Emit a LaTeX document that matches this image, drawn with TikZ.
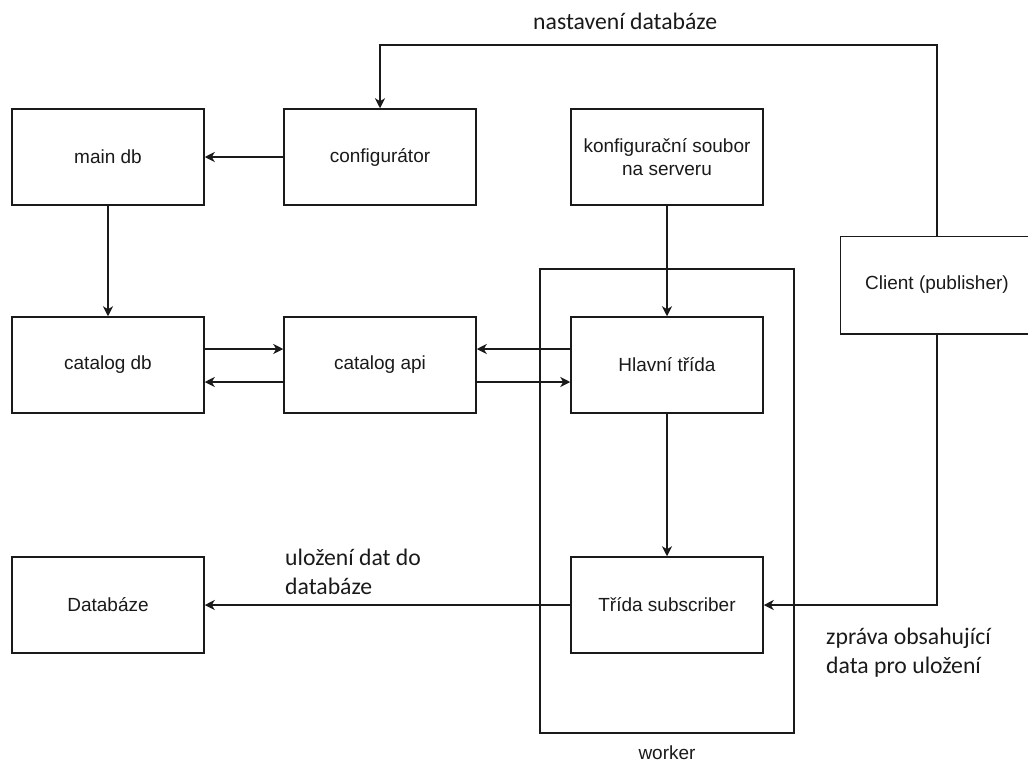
\documentclass[tikz,border=0pt]{standalone}
\usepackage{fontspec}
\setmainfont{Liberation Sans}
\newfontfamily\lblfont{Carlito}
\usetikzlibrary{arrows.meta,calc}
\definecolor{ink}{HTML}{1A1A1A}
\tikzset{
  box/.style={draw=ink, line width=1.5pt, minimum width=192pt, minimum height=96pt, inner sep=0pt, align=center, font=\fontsize{19}{23}\selectfont, text=ink},
  conn/.style={draw=ink, line width=1.5pt, -{Stealth[length=10pt,width=10pt,inset=3pt]}},
  lbl/.style={font=\lblfont\fontsize{23.7}{29}\selectfont, text=ink, align=left, inner sep=0pt, anchor=north west},
}
\begin{document}
\begin{tikzpicture}[x=1pt,y=-1pt]
\useasboundingbox (0,0) rectangle (1028,763);
% worker container
\draw[ink, line width=1.5pt] (540,269) rectangle (794,733);
\node[font=\fontsize{19}{23}\selectfont, text=ink] (wlbl) at (667,753) {worker};
% boxes
\node[box] (maindb) at (108,157) {main db};
\node[box] (cfg) at (380,157) {configurátor};
\node[box] (konf) at (667,157) {konfigurační soubor\\na serveru};
\node[box] (catdb) at (108,365) {catalog db};
\node[box] (catapi) at (380,365) {catalog api};
\node[box] (hlavni) at (667,365) {Hlavní třída};
\node[box, draw=none] (client) at (937,285) {Client (publisher)};
\coordinate (rx) at (1028,0);
\draw[ink, line width=1.5pt] (client.north west -| rx) -| (client.south west) -- (client.south west -| rx);
\node[box] (dbz) at (108,605) {Databáze};
\node[box] (sub) at (667,605) {Třída subscriber};
% connectors
\coordinate (topy) at (0,45);
\draw[conn] (client.north) |- (cfg.north |- topy) -- (cfg.north);
\draw[conn] (cfg.west) -- (maindb.east);
\draw[conn] (maindb.south) -- (catdb.north);
\draw[conn] ([yshift=16pt]catdb.east) -- ([yshift=16pt]catapi.west);
\draw[conn] ([yshift=-17pt]catapi.west) -- ([yshift=-17pt]catdb.east);
\draw[conn] ([yshift=16pt]hlavni.west) -- ([yshift=16pt]catapi.east);
\draw[conn] ([yshift=-17pt]catapi.east) -- ([yshift=-17pt]hlavni.west);
\draw[conn] (konf.south) -- (hlavni.north);
\draw[conn] (hlavni.south) -- (sub.north);
\draw[conn] (sub.west) -- (dbz.east);
\draw[conn] (client.south) |- (sub.east);
% labels
\node[lbl] (l1) at (533,13) {nastavení databáze};
\node[lbl] (l2) at (285,549) {uložení dat do\\databáze};
\node[lbl] (l3) at (826,628) {zpráva obsahující\\data pro uložení};
\end{tikzpicture}
\end{document}
